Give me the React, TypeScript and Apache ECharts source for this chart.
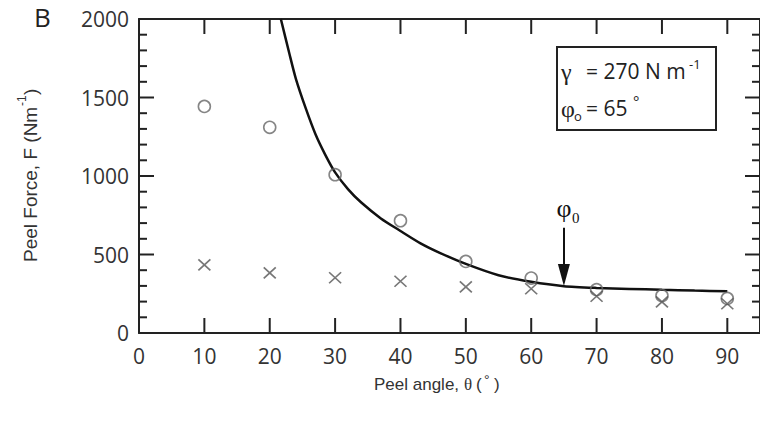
import { useEffect, useRef } from 'react';
import * as echarts from 'echarts';

const angles = [10, 20, 30, 40, 50, 60, 70, 80, 90];
const forceCircles = [1443, 1310, 1008, 715, 456, 350, 276, 238, 220];
const forceCrosses = [434, 383, 352, 330, 294, 282, 234, 198, 186];
const curveAngles = [21.7, 23, 24, 25.5, 27, 28.5, 30, 32, 34, 37, 40, 43, 46, 50, 55, 60, 65, 70, 75, 80, 85, 90];
const curveForce = [2000, 1780, 1619, 1432, 1266, 1135, 1023, 915, 831, 730, 650, 573, 511, 440, 368, 326, 298, 287, 281, 275, 270, 266];
const xTickLabels = ['0', '10', '20', '30', '40', '50', '60', '70', '80', '90'];
const yTickLabels = ['0', '500', '1000', '1500', '2000'];
const xMajorTicks = [10, 20, 30, 40, 50, 60, 70, 80, 90];
const yMajorTicks = [500, 1000, 1500];
const yMinorTicks = [100, 200, 300, 400, 600, 700, 800, 900, 1100, 1200, 1300, 1400, 1600, 1700, 1800, 1900];
const xMin = 0, xMax = 95, yMin = 0, yMax = 2000;
const arrowAngle = 65;
const arrowFrom = 670;
const arrowTo = 370;

const AX = '#222';
const TXT = '#333';
const SANS = 'Open Sans';
const ARIAL = 'Liberation Sans';
const SERIF = 'Liberation Serif';

const mkLine = () => ({ show: true, onZero: false, lineStyle: { color: AX, width: 2 } });

export default function App() {
  const ref = useRef<HTMLDivElement>(null);
  useEffect(() => {
    if (!ref.current) return;
    const chart = echarts.init(ref.current, null, { renderer: 'svg' });

    // inward tick marks drawn as thin rect symbols at the axis edges
    const tickItems: any[] = [];
    xMajorTicks.forEach((v) => {
      tickItems.push({ value: [v, yMin], symbolSize: [2, 15], symbolOffset: [0, -7.5] });
      tickItems.push({ value: [v, yMax], symbolSize: [2, 15], symbolOffset: [0, 7.5] });
    });
    const addY = (v: number, len: number) => {
      tickItems.push({ value: [xMin, v], symbolSize: [len, 2], symbolOffset: [len / 2, 0] });
      tickItems.push({ value: [xMax, v], symbolSize: [len, 2], symbolOffset: [-len / 2, 0] });
    };
    yMajorTicks.forEach((v) => addY(v, 15));
    yMinorTicks.forEach((v) => addY(v, 8));

    chart.setOption({
      animation: false,
      backgroundColor: '#fff',
      grid: { left: 139, top: 19, right: 0, bottom: 93, containLabel: false },
      xAxis: [
        {
          type: 'value', min: xMin, max: xMax, interval: 10, position: 'bottom',
          axisLine: mkLine(), splitLine: { show: false }, axisTick: { show: false },
          axisLabel: {
            show: true, margin: 12, color: TXT, fontFamily: SANS, fontSize: 21, showMaxLabel: false,
            formatter: (v: number) => (xTickLabels.includes(String(v)) ? String(v) : ''),
          },
        },
        {
          type: 'value', min: xMin, max: xMax, interval: 10, position: 'top',
          axisLine: mkLine(), splitLine: { show: false }, axisTick: { show: false }, axisLabel: { show: false },
        },
      ],
      yAxis: [
        {
          type: 'value', min: yMin, max: yMax, interval: 500, position: 'left',
          axisLine: mkLine(), splitLine: { show: false }, axisTick: { show: false },
          axisLabel: {
            show: true, margin: 10, color: TXT, fontFamily: SANS, fontSize: 21,
            formatter: (v: number) => (yTickLabels.includes(String(v)) ? String(v) : ''),
          },
        },
        {
          type: 'value', min: yMin, max: yMax, interval: 500, position: 'right',
          axisLine: mkLine(), splitLine: { show: false }, axisTick: { show: false }, axisLabel: { show: false },
        },
      ],
      series: [
        {
          type: 'line',
          xAxisIndex: 0, yAxisIndex: 0,
          data: curveAngles.map((a, i) => [a, curveForce[i]]),
          showSymbol: false,
          smooth: 0.25,
          lineStyle: { color: '#111', width: 2.5 },
          z: 3,
          markLine: {
            silent: true,
            symbol: ['none', 'triangle'],
            symbolSize: [12, 22],
            lineStyle: { color: '#111', width: 2, type: 'solid' },
            itemStyle: { color: '#111' },
            label: { show: false },
            data: [[{ coord: [arrowAngle, arrowFrom] }, { coord: [arrowAngle, arrowTo] }]],
          },
        },
        {
          type: 'scatter',
          xAxisIndex: 0, yAxisIndex: 0,
          data: angles.map((a, i) => [a, forceCircles[i]]),
          symbol: 'circle',
          symbolSize: 12,
          itemStyle: { color: 'rgba(255,255,255,0)', borderColor: '#666', borderWidth: 1.6 },
          z: 4,
        },
        {
          type: 'scatter',
          xAxisIndex: 0, yAxisIndex: 0,
          data: angles.map((a, i) => [a, forceCrosses[i]]),
          symbol: 'path://M0,0L10,10M10,0L0,10',
          symbolSize: [12, 11],
          itemStyle: { color: 'rgba(0,0,0,0)', borderColor: '#555', borderWidth: 1.6 },
          z: 4,
        },
        {
          type: 'scatter',
          xAxisIndex: 0, yAxisIndex: 0,
          data: tickItems,
          symbol: 'rect',
          clip: false,
          silent: true,
          emphasis: { disabled: true },
          itemStyle: { color: AX, borderWidth: 0, opacity: 1 },
          z: 6,
        },
      ],
    });

    const ap = chart.convertToPixel({ xAxisIndex: 0, yAxisIndex: 0 }, [arrowAngle, arrowFrom]) as number[];

    const boxX = 557, boxY = 47;
    chart.setOption({
      graphic: [
        { type: 'text', left: 34, top: 4, style: { text: 'B', fontFamily: SANS, fontSize: 26, fill: '#222' } },
        {
          type: 'group', x: 30, y: 262, rotation: Math.PI / 2,
          children: [
            { type: 'text', x: 0, y: 0, style: { text: 'Peel Force, F (Nm', fontFamily: ARIAL, fontSize: 19, fill: TXT, verticalAlign: 'middle', align: 'left' } },
            { type: 'text', x: 156, y: -8, style: { text: '-1', fontFamily: ARIAL, fontSize: 12, fill: TXT, verticalAlign: 'middle', align: 'left' } },
            { type: 'text', x: 167, y: 0, style: { text: ')', fontFamily: ARIAL, fontSize: 19, fill: TXT, verticalAlign: 'middle', align: 'left' } },
          ],
        },
        {
          type: 'group', x: 374, y: 384,
          children: [
            { type: 'text', x: 0, y: 0, style: { text: 'Peel angle,', fontFamily: ARIAL, fontSize: 17, fill: TXT, verticalAlign: 'middle' } },
            { type: 'text', x: 90, y: 0, style: { text: 'θ', fontFamily: SERIF, fontSize: 17, fill: TXT, verticalAlign: 'middle' } },
            { type: 'text', x: 102, y: 0, style: { text: '(', fontFamily: ARIAL, fontSize: 17, fill: TXT, verticalAlign: 'middle' } },
            { type: 'text', x: 110, y: -4, style: { text: '°', fontFamily: ARIAL, fontSize: 14, fill: TXT, verticalAlign: 'middle' } },
            { type: 'text', x: 120, y: 0, style: { text: ')', fontFamily: ARIAL, fontSize: 17, fill: TXT, verticalAlign: 'middle' } },
          ],
        },
        {
          type: 'group', x: boxX, y: boxY,
          children: [
            { type: 'rect', shape: { x: 0, y: 0, width: 159, height: 83 }, style: { fill: '#fff', stroke: '#222', lineWidth: 2 } },
            { type: 'text', x: 4, y: 25, style: { text: 'γ', fontFamily: SERIF, fontSize: 24, fill: '#222', verticalAlign: 'middle' } },
            { type: 'text', x: 29, y: 24, style: { text: '= 270 N m', fontFamily: SANS, fontSize: 21, fill: '#222', verticalAlign: 'middle' } },
            { type: 'text', x: 132, y: 17, style: { text: '-1', fontFamily: SANS, fontSize: 13, fill: '#222', verticalAlign: 'middle' } },
            { type: 'text', x: 4, y: 62, style: { text: 'φ', fontFamily: SERIF, fontSize: 24, fill: '#222', verticalAlign: 'middle' } },
            { type: 'text', x: 17, y: 69, style: { text: 'o', fontFamily: SANS, fontSize: 13, fill: '#222', verticalAlign: 'middle' } },
            { type: 'text', x: 29, y: 61, style: { text: '= 65', fontFamily: SANS, fontSize: 21, fill: '#222', verticalAlign: 'middle' } },
            { type: 'text', x: 76, y: 54, style: { text: '°', fontFamily: SANS, fontSize: 15, fill: '#222', verticalAlign: 'middle' } },
          ],
        },
        { type: 'text', x: ap[0], y: ap[1] - 19, style: { text: 'φ', fontFamily: SERIF, fontSize: 26, fill: '#111', align: 'center', verticalAlign: 'middle' } },
        { type: 'text', x: ap[0] + 8, y: ap[1] - 10, style: { text: '0', fontFamily: SERIF, fontSize: 15, fill: '#111', align: 'left', verticalAlign: 'middle' } },
      ],
    });
    return () => chart.dispose();
  }, []);
  return <div ref={ref} style={{ position: 'fixed', left: 0, top: 0, width: 760, height: 426 }} />;
}
